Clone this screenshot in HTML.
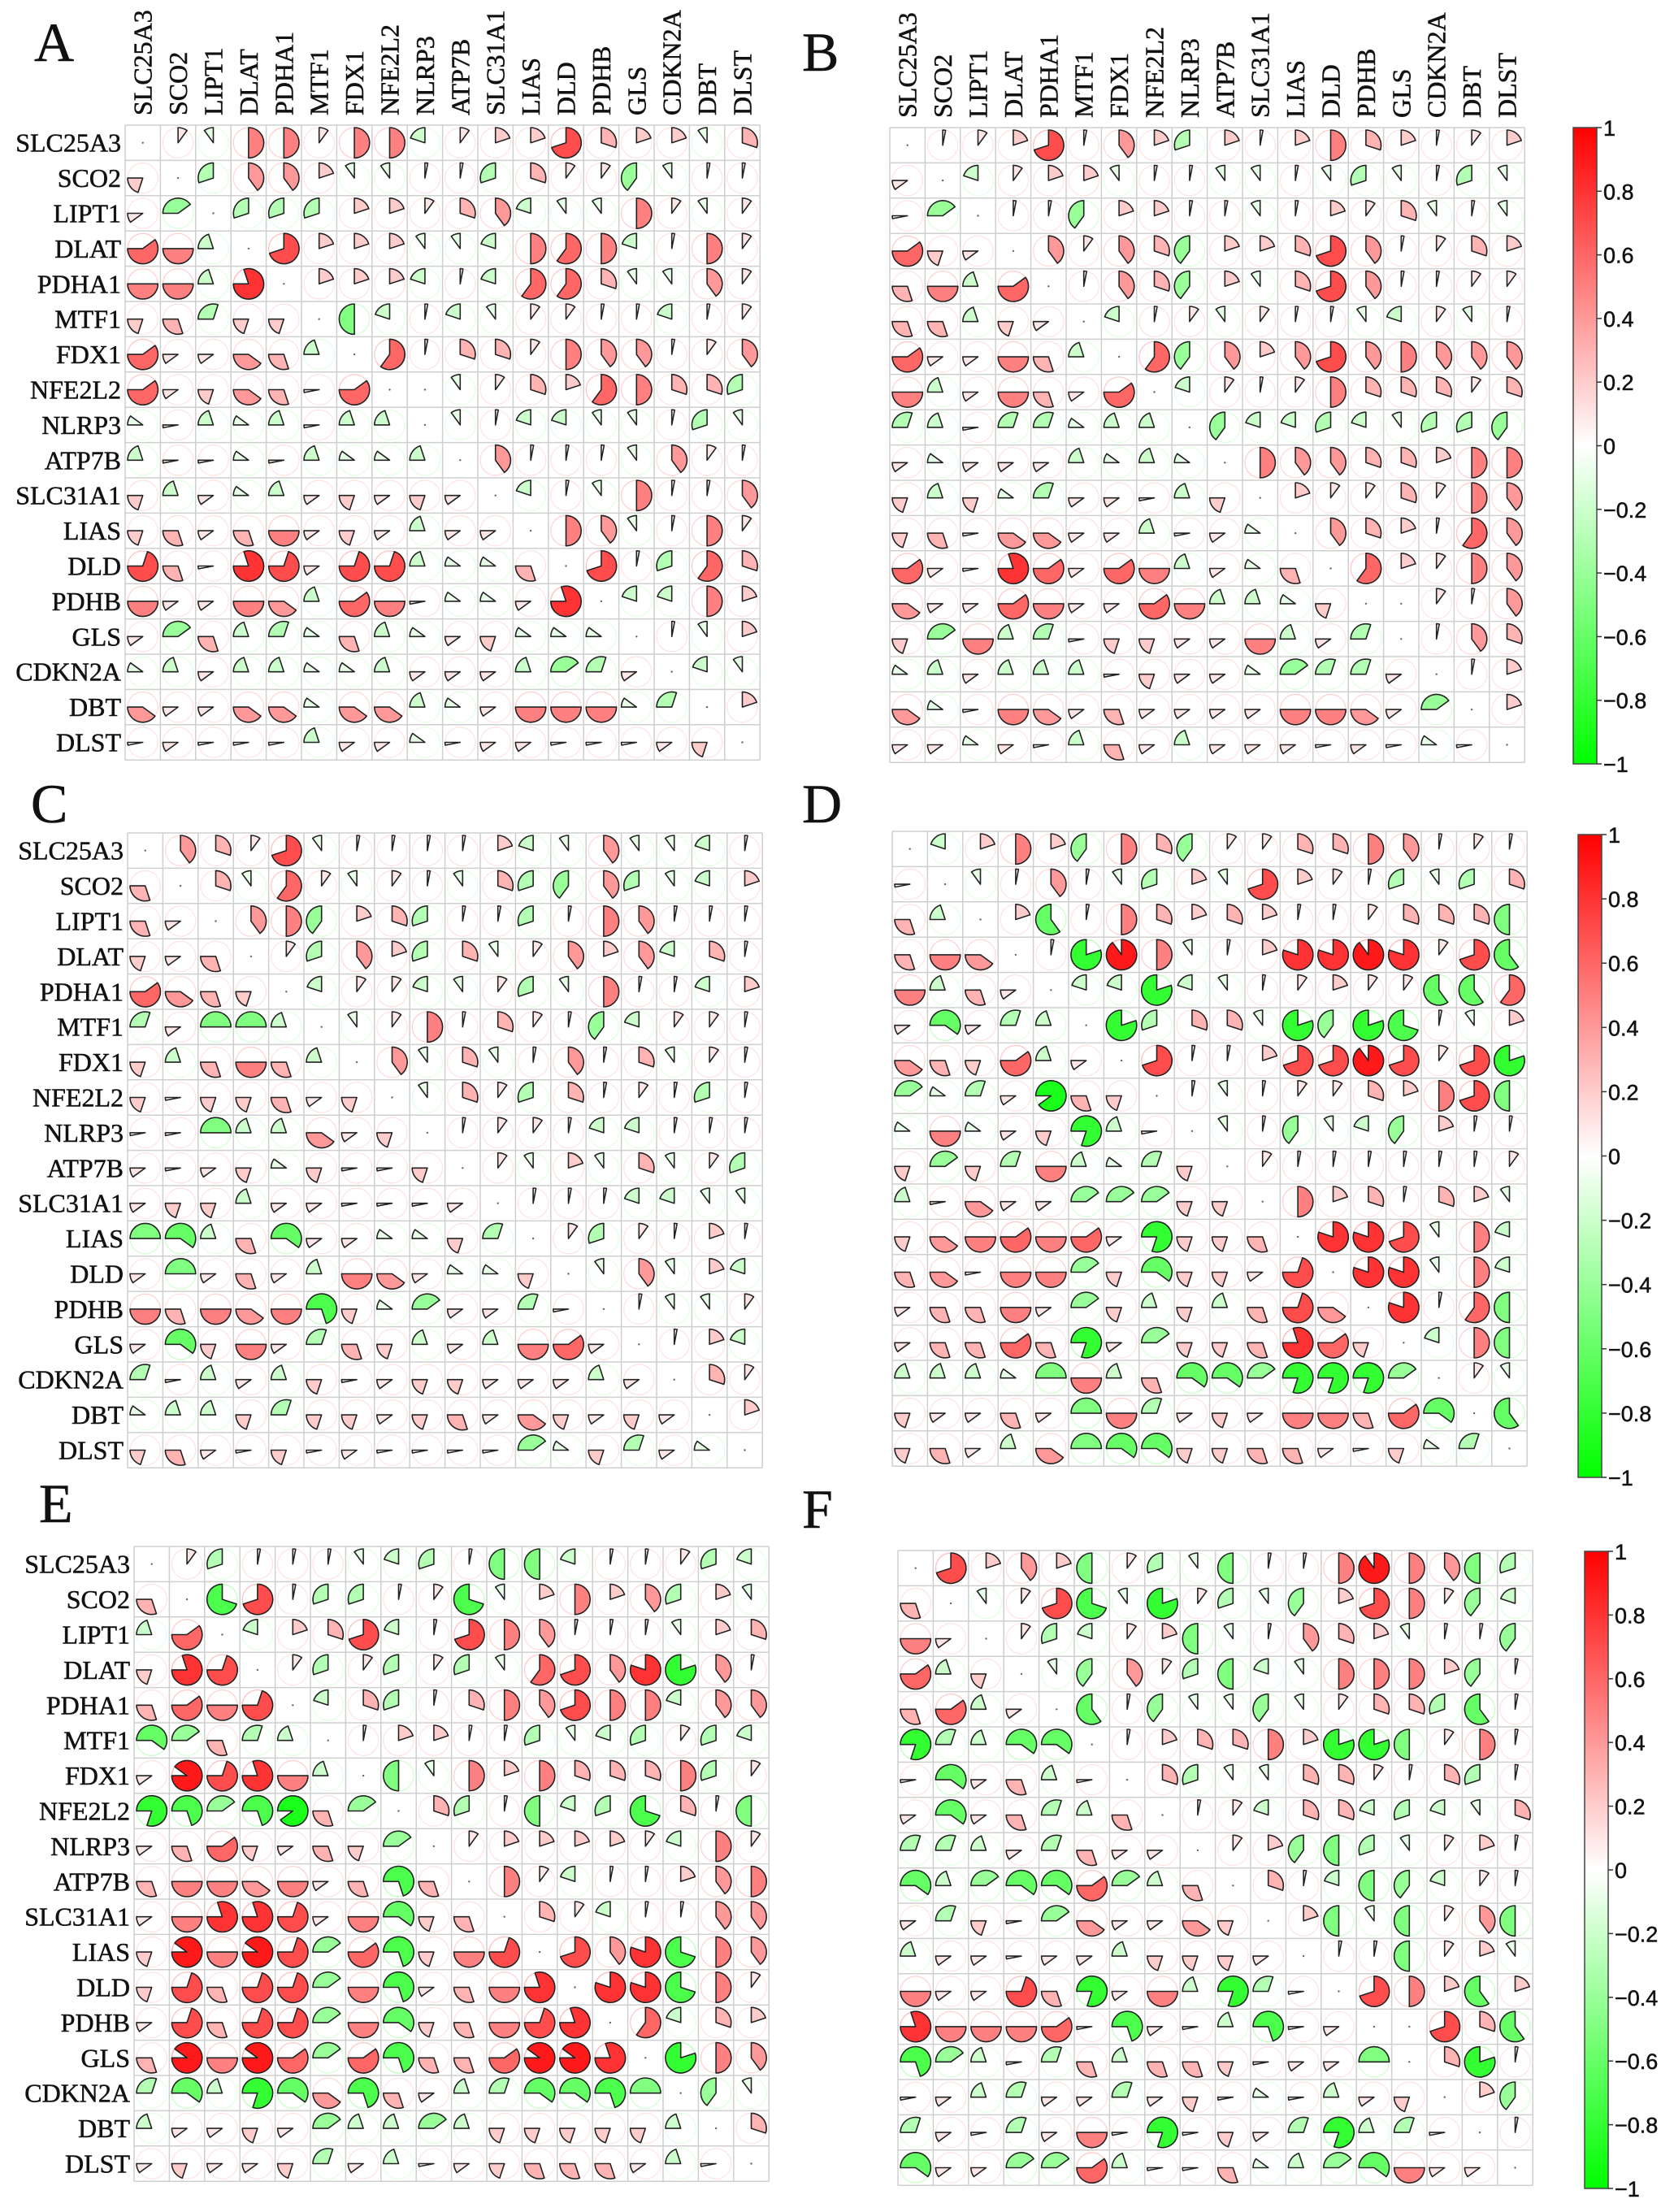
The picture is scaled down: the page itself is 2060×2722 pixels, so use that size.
<!DOCTYPE html>
<html><head><meta charset="utf-8">
<style>
html,body{margin:0;padding:0;background:#fff;}
body{width:2060px;height:2722px;overflow:hidden;position:relative;}
svg{position:absolute;left:0;top:0;}
</style></head><body>
<svg id="s" width="2060" height="2722" xmlns="http://www.w3.org/2000/svg"></svg>
<script>
var G=["SLC25A3","SCO2","LIPT1","DLAT","PDHA1","MTF1","FDX1","NFE2L2","NLRP3","ATP7B","SLC31A1","LIAS","DLD","PDHB","GLS","CDKN2A","DBT","DLST"];
var P={
A:{x:154,y:154,c:43.4,rl:1,cl:1,L:[42,75],d:[
".1a55155b1227322a34","2.c442aa00c311da00","1d.ccc22134baa51a1","65b.7222aab565b051","55b8.222b0b663aa41","23c22.eb0ba1100b01c","61143b.603315440141","61243060.a1326533c43","a0bab0bb.a0bbaa0ca","b00a0baab.4000a4104","2b1ab1212 1.b0a5004","23135121b11.54a051","73087177baa3.70c63","51154b650aa18.bb52","1d3bca3ba12aaa.0a2","ab1bbaab111bdc1.ba","411 44a44ba1555ac.2","010 00b11a011000 12."]},
B:{x:1095,y:157,c:43.4,rl:0,cl:1,L:[987,87],d:[
".012704 2c20253 2012","1.b122a00aa0aca0ca","0d.00d2200a02 13a0a","6 21.414 3d2237 40132","35b6.0 43d2a37 40011","33b21.b01a100ab1a0","6115 3b.6d42474 5444","5b153 16.b1015 33313","cb0ccabb.dbbcbacc d","1a111bab a.54433255","2b2ac110b2.211315 4","2304411b01a.432064","6108616 5b1a3.62154","41165 1165bba28.1044","2d5bc02211 5b1c.043","ab1bbb0211adcc1.02","4a054131111554 1d.2","11a10b31b111010a02."]},
C:{x:157,y:1025,c:43.4,rl:1,cl:0,L:[38,1012],d:[
".4317a00002ba4aab0","3.3a61a10a3cd4cab2","31.45d23c00c0540 00","213.1c42c3a14 24b30","6432.b11ba1ca500b2","c1eeb.a15031 0db110","2b353b.4a3a0 40 3a10","2022312.a31c3010c0b","00ebb412.011 0bb000","1012a2002.1a2a3a1c","122b110001.000bbaa","efb3f11aa2c.1c1020","1e131b541aa2.a4a2b","5354 5g2ad11c0.0aa1","1f251c32b1b561.02b","c0b1b20122111b1.31","abb2c2212314212 1.2","231020 1000 0da2c1a."]},
D:{x:1098,y:1023,c:43.4,rl:0,cl:0,L:[987,1012],d:[
".b252d53d1133540 10","0.a040ac2a72 10cac3","3b.2f05323 20013 33e","354.0h95a0288981 7f","5b31.bbhba012 11ff6","1f1cb.hc33ahdhg0a2","4326b1.7002779717h","dac1i32.0a011325 7e","a5a12hb0.a0dabd200","2d2c5bac2.10000001a","b0411ddd22.52303 2a","245656 1h223.887a5b","3405 5d2f2217.88a5b","133 51d2b2b374.806e","1336 3h1d223862.b5e","bbbae5b3ffdhhhd.1a","2113 1e5c121553 6f.f","231b4eff22331 02ac."]},
E:{x:165,y:1903,c:43.4,rl:1,cl:0,L:[48,1873],d:[
".1c000abc0eeb001cb","3.g70cc01ga252 4c2a","b6.b237b075400 0a23","287.1c1c1ca6748h40","3657.b3c0354755b44","fd3cb.02200cabc1cb","19785b.ea52533 35c15","hgdgi3d.3c0ebcg30e","13621 32d.12222 1b51","35545 13g3.51b0024 5","15887 15f23.31b0044","29597d6g257.748g54","27377d5g1358.88g51","17377d5f23578.6b32","39596d6g3369 98.h54","cfbhf4g31bcffge.da","b1121dbbdb22222b.3","121 12c1b012333 1b0."]},
F:{x:1105,y:1908,c:43.4,rl:0,cl:0,L:[987,1880],d:[
".7242e1cae00595 4ec","3.a17gah1cad2751db","51.1cb12ea0432a00d","6b2.ad41ceba555 2d0","36b1.f0daada133cf0","hcbff.02335 2hhe150","0f13b0.3caa33103c0","1f13cb3.01b33bcba3","ccb1c311.12dec a120","fbdff6db3.30bedb10","1c20d41142.2eae14e","b1101 1b2221.00e12a","5117 3h15bhc0.752f2","855560g10bg014.73fb","gdb0c3b3320 11e.3h0","01bc11c120a0b12.2d","c10c150h021chbc0.0","f11dd6b003abdf511."]}
};
function parse(s){var out=[];for(var i=0;i<s.length;i++){var ch=s[i];if(ch===' ')continue;if(ch==='.')out.push(null);else if(ch>='0'&&ch<='9'){var v=+ch/10;out.push(v===0?0.03:v);}else{out.push(-((ch.charCodeAt(0)-96)/10));}}
 while(out.length<18)out.push(0.03);return out.slice(0,18);}
function col(v){var t=Math.min(1,Math.abs(v));var k=Math.round(255*(1-t));return v>=0?"rgb(255,"+k+","+k+")":"rgb("+k+",255,"+k+")";}
function light(v){var t=Math.min(1,Math.abs(v));var k=Math.round(255*(1-0.35*Math.max(t,0.3)));return v>=0?"rgb(255,"+k+","+k+")":"rgb("+k+",255,"+k+")";}
var h=[];
function T(x,y,txt,sz,anchor,extra,fam){h.push('<text x="'+x+'" y="'+y+'" font-family="'+(fam||'Liberation Serif')+', serif" font-size="'+sz+'" text-anchor="'+(anchor||'start')+'" fill="#111" stroke="#111" stroke-width="0.5" '+(extra||'')+'>'+txt+'</text>');}
for(var key in P){var p=P[key];var c=p.c;var n=18;
 T(p.L[0],p.L[1],key,68,'start','');
 for(var i=0;i<=n;i++){h.push('<line x1="'+(p.x+i*c)+'" y1="'+p.y+'" x2="'+(p.x+i*c)+'" y2="'+(p.y+n*c)+'" stroke="#cfcfcf" stroke-width="1.5"/>');
  h.push('<line x1="'+p.x+'" y1="'+(p.y+i*c)+'" x2="'+(p.x+n*c)+'" y2="'+(p.y+i*c)+'" stroke="#cfcfcf" stroke-width="1.5"/>');}
 if(p.rl){for(var r=0;r<n;r++)T(p.x-5,p.y+r*c+c/2+11,G[r],32,'end','');}
 if(p.cl){for(var r=0;r<n;r++){var cx=p.x+r*c+c/2+11,cy=p.y-12;T(cx,cy,G[r],32,'start','transform="rotate(-90 '+cx+' '+cy+')"');}}
 for(var r=0;r<n;r++){var row=parse(p.d[r]);for(var k=0;k<n;k++){var v=row[k];var cx=p.x+k*c+c/2,cy=p.y+r*c+c/2;
  if(v===null||k===r){h.push('<circle cx="'+cx+'" cy="'+cy+'" r="1.2" fill="#666"/>');continue;}
  var R=c*0.43;
  h.push('<circle cx="'+cx+'" cy="'+cy+'" r="'+R+'" fill="none" stroke="'+light(v)+'" stroke-width="1.3"/>');
  var ang=Math.max(Math.abs(v),0.03)*2*Math.PI;
  var start,dir;
  if(k>r){start=-Math.PI/2;dir=v>=0?1:-1;}else{start=Math.PI;dir=v>=0?-1:1;}
  var a1=start,a2=start+dir*ang;
  var x1=cx+R*Math.cos(a1),y1=cy+R*Math.sin(a1),x2=cx+R*Math.cos(a2),y2=cy+R*Math.sin(a2);
  var large=ang>Math.PI?1:0;var sw=dir>0?1:0;
  h.push('<path d="M'+cx.toFixed(1)+' '+cy.toFixed(1)+' L'+x1.toFixed(1)+' '+y1.toFixed(1)+' A'+R.toFixed(1)+' '+R.toFixed(1)+' 0 '+large+' '+sw+' '+x2.toFixed(1)+' '+y2.toFixed(1)+' Z" fill="'+col(v)+'" stroke="#222" stroke-width="1.6" stroke-linejoin="round"/>');
 }}
}
var CB=[[1936,157,940],[1942,1027,1818],[1950,1909,2693]];
h.push('<defs><linearGradient id="g" x1="0" y1="0" x2="0" y2="1"><stop offset="0" stop-color="#ff0000"/><stop offset="0.5" stop-color="#ffffff"/><stop offset="1" stop-color="#00ff00"/></linearGradient></defs>');
CB.forEach(function(b){var x=b[0],y0=b[1],y1=b[2];h.push('<rect x="'+x+'" y="'+y0+'" width="29" height="'+(y1-y0)+'" fill="url(#g)" stroke="#444" stroke-width="1.5"/>');
 var labs=["1","0.8","0.6","0.4","0.2","0","\u22120.2","\u22120.4","\u22120.6","\u22120.8","\u22121"];
 for(var i=0;i<=10;i++){var y=y0+(y1-y0)*i/10;h.push('<line x1="'+(x+29)+'" y1="'+y+'" x2="'+(x+35)+'" y2="'+y+'" stroke="#333" stroke-width="1.5"/>');
  T(x+37,y+10,labs[i],27,'start','','Liberation Sans');}
});
document.getElementById('s').innerHTML=h.join('');
</script>
</body></html>
